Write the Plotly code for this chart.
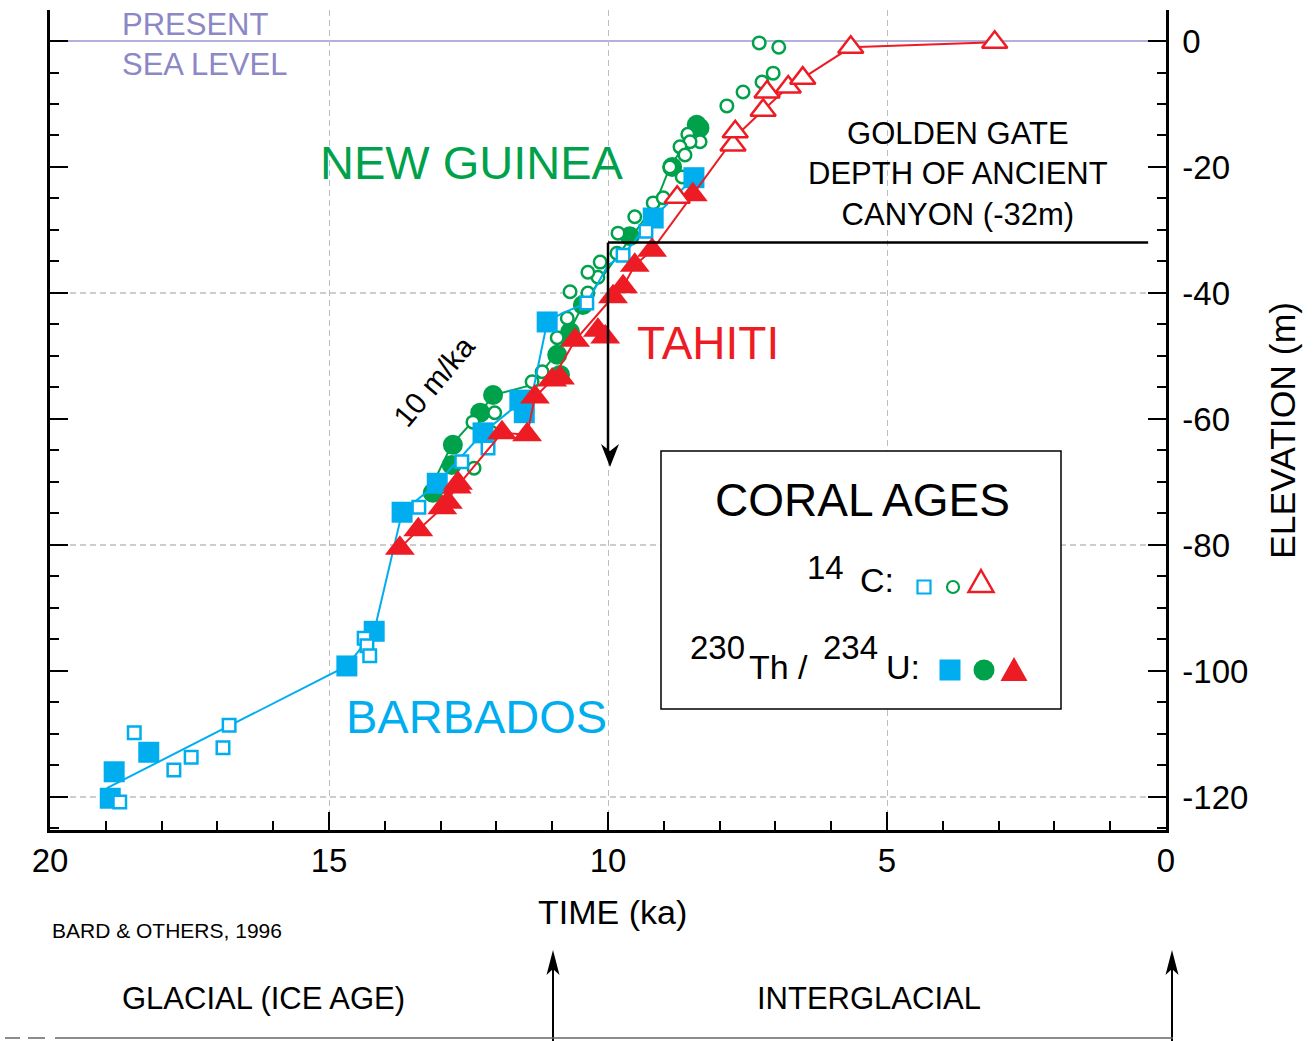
import plotly.graph_objects as go

# ---------------- data: time (ka before present), elevation (m) ----------------
barbados_uth_t = [18.92, 18.85, 18.23, 14.68, 14.19, 13.69, 13.06, 12.24, 11.58, 11.50, 11.09, 9.19, 8.46]
barbados_uth_e = [-120.2, -116.0, -112.9, -99.2, -93.7, -74.8, -70.2, -62.2, -57.0, -59.0, -44.6, -28.1, -21.7]
barbados_c14_t = [18.75, 18.49, 17.78, 17.47, 16.90, 16.79, 14.37, 14.32, 14.27, 13.39, 12.62, 12.15, 10.38, 9.73, 9.32]
barbados_c14_e = [-120.8, -109.8, -115.7, -113.7, -112.2, -108.6, -94.8, -96.0, -97.6, -74.0, -66.8, -64.6, -41.6, -34.0, -30.2]
barbados_curve_t = [18.98, 14.68, 14.19, 13.69, 13.06, 12.24, 11.52, 11.34, 11.09, 10.82, 10.38, 10.00, 9.73, 9.19, 8.46]
barbados_curve_e = [-118.6, -99.2, -93.7, -74.8, -70.2, -62.2, -57.0, -55.4, -44.6, -43.2, -41.6, -35.6, -34.0, -28.1, -21.7]

newguinea_uth_t = [13.14, 12.80, 12.78, 12.29, 12.06, 10.86, 10.91, 10.68, 10.45, 9.61, 8.85, 8.41, 8.36]
newguinea_uth_e = [-71.7, -67.3, -64.1, -59.0, -56.2, -53.0, -49.8, -46.2, -41.9, -31.0, -20.0, -13.3, -13.8]
newguinea_c14_t = [7.29, 6.94, 7.04, 7.24, 7.58, 7.87, 8.57, 8.35, 8.53, 8.71, 8.62, 8.89, 8.67, 9.19, 9.01,
                   9.52, 9.82, 9.84, 10.14, 10.18, 10.36, 10.68, 10.36, 10.73, 10.91, 11.18, 11.36, 12.03,
                   12.42, 12.08, 12.40]
newguinea_c14_e = [-0.3, -1.0, -5.1, -6.5, -8.1, -10.3, -14.8, -16.0, -16.0, -16.8, -18.1, -20.0, -21.6, -25.7, -24.9,
                   -27.9, -30.5, -33.7, -35.1, -37.5, -36.7, -39.8, -40.0, -44.0, -47.1, -52.5, -54.1, -59.0,
                   -60.5, -62.2, -67.8]
newguinea_curve_t = [13.24, 12.80, 12.29, 12.06, 11.36, 11.13, 10.91, 10.68, 10.45, 10.14, 9.82, 9.57, 9.16, 8.89, 8.39]
newguinea_curve_e = [-72.1, -64.1, -59.0, -56.2, -54.6, -51.9, -49.4, -45.9, -41.9, -37.9, -34.0, -31.1, -26.0, -20.0, -13.3]

tahiti_uth_t = [13.73, 13.40, 12.97, 12.87, 12.71, 12.69, 11.90, 11.45, 11.31, 11.00, 10.86, 10.59, 10.18, 10.05,
                9.91, 9.73, 9.52, 9.21, 8.48]
tahiti_uth_e = [-80.5, -77.6, -74.1, -73.2, -70.8, -70.2, -62.2, -62.5, -56.5, -53.8, -53.5, -47.5, -45.9, -47.0,
                -40.6, -39.0, -35.6, -33.2, -24.4]
tahiti_c14_t = [8.76, 7.76, 7.72, 7.22, 7.15, 6.77, 6.51, 5.65, 3.07]
tahiti_c14_e = [-24.8, -16.5, -14.4, -11.0, -8.1, -7.3, -5.9, -1.0, -0.2]
tahiti_curve_t = [13.73, 13.40, 12.97, 12.71, 11.90, 11.45, 11.31, 11.00, 10.59, 9.91, 9.73, 9.52, 9.21, 8.48,
                  7.72, 7.22, 6.77, 6.51, 5.65, 3.07]
tahiti_curve_e = [-80.5, -77.6, -74.1, -70.8, -62.2, -62.5, -56.5, -53.8, -47.5, -40.6, -39.0, -35.6, -33.2, -24.4,
                  -15.2, -11.0, -7.3, -5.9, -1.0, -0.2]

x_ticks = [20, 15, 10, 5, 0]
y_ticks = [0, -20, -40, -60, -80, -100, -120]
golden_gate_depth = -32
golden_gate_time = 10
sea_level = 0

# ---------------- styling ----------------
FONT = "Liberation Sans, Arial, Helvetica, sans-serif"
BLUE = "#00AEEF"
GREEN = "#00A14B"
RED = "#ED1C24"
LAV = "#8C87C6"
W, H = 1313, 1041
L, R, T, B = 50, 1166, 10, 830


def px(x):
    return (x - L) / (R - L)


def py(y):
    return (B - y) / (B - T)


fig = go.Figure()


def curve(t, e, color):
    fig.add_trace(go.Scatter(x=t, y=e, mode="lines", line=dict(color=color, width=2),
                             hoverinfo="skip", showlegend=False))


def pts(t, e, color, symbol, size, filled):
    if filled:
        mk = dict(color=color, symbol=symbol, size=size, line=dict(width=0))
    else:
        mk = dict(color="white", symbol=symbol, size=size, line=dict(color=color, width=2.5))
    fig.add_trace(go.Scatter(x=t, y=e, mode="markers", marker=mk, showlegend=False))


curve(newguinea_curve_t, newguinea_curve_e, GREEN)
pts(newguinea_uth_t, newguinea_uth_e, GREEN, "circle", 20, True)
pts(newguinea_c14_t, newguinea_c14_e, GREEN, "circle", 12.5, False)
curve(barbados_curve_t, barbados_curve_e, BLUE)
pts(barbados_uth_t, barbados_uth_e, BLUE, "square", 21, True)
pts(barbados_c14_t, barbados_c14_e, BLUE, "square", 12.5, False)
curve(tahiti_curve_t, tahiti_curve_e, RED)
pts(tahiti_uth_t, tahiti_uth_e, RED, "triangle-up", 26, True)
pts(tahiti_c14_t, tahiti_c14_e, RED, "triangle-up", 22, False)

shapes = []
# horizontal dashed grid
for g in [-40, -80, -120]:
    shapes.append(dict(type="line", xref="paper", x0=0, x1=1, yref="y", y0=g, y1=g, layer="below",
                       line=dict(color="#BDBDBD", width=1.3, dash="6px,4px")))
# present sea level
shapes.append(dict(type="line", xref="x", x0=20, x1=0, yref="y", y0=sea_level, y1=sea_level, layer="below",
                   line=dict(color="#9A96D2", width=1.5)))
# golden gate canyon depth: horizontal line and vertical arrow shaft
shapes.append(dict(type="line", xref="x", x0=golden_gate_time, x1=0.32, yref="y", y0=golden_gate_depth,
                   y1=golden_gate_depth, line=dict(color="black", width=2.5)))
shapes.append(dict(type="line", xref="x", x0=golden_gate_time, x1=golden_gate_time, yref="y",
                   y0=golden_gate_depth, y1=-65, line=dict(color="black", width=2.5)))
# legend box
shapes.append(dict(type="rect", xref="paper", yref="paper", x0=px(661), x1=px(1061), y0=py(709), y1=py(451),
                   fillcolor="white", line=dict(color="black", width=1.5)))


def poly(points, color, filled=True, width=0):
    p = "M " + " L ".join("{},{}".format(px(a), py(b)) for a, b in points) + " Z"
    shapes.append(dict(type="path", xref="paper", yref="paper", path=p,
                       fillcolor=color if filled else "white",
                       line=dict(color=color, width=width)))


def arrow_head(x, tip, length, width, notch, down=False):
    s = -1 if down else 1
    poly([(x, tip), (x + width / 2, tip + s * length), (x, tip + s * (length - notch)),
          (x - width / 2, tip + s * length)], "black")


# golden gate arrow head (pointing down)
arrow_head(610, 467, 23, 18, 7, down=True)
# bottom arrows (pointing up)
for xa in [553, 1172]:
    shapes.append(dict(type="line", xref="paper", yref="paper", x0=px(xa), x1=px(xa), y0=py(1041), y1=py(965),
                       line=dict(color="black", width=2)))
    arrow_head(xa, 950, 25, 13, 6)


# legend swatches
def sq(cx, cy, s, color, filled):
    shapes.append(dict(type="rect", xref="paper", yref="paper", x0=px(cx - s / 2), x1=px(cx + s / 2),
                       y0=py(cy + s / 2), y1=py(cy - s / 2),
                       fillcolor=color if filled else "white",
                       line=dict(color=color, width=0 if filled else 2.2)))


def circ(cx, cy, d, color, filled):
    shapes.append(dict(type="circle", xref="paper", yref="paper", x0=px(cx - d / 2), x1=px(cx + d / 2),
                       y0=py(cy + d / 2), y1=py(cy - d / 2),
                       fillcolor=color if filled else "white",
                       line=dict(color=color, width=0 if filled else 2.2)))


def tri(cx, top, bot, w, color, filled):
    poly([(cx, top), (cx + w / 2, bot), (cx - w / 2, bot)], color, filled, 0 if filled else 2.5)


sq(924, 587, 13, BLUE, False)
circ(953, 587, 12, GREEN, False)
tri(981, 570, 592, 25, RED, False)
sq(950, 670, 21, BLUE, True)
circ(984, 670, 21, GREEN, True)
tri(1014, 657, 681, 27, RED, True)

# bottom rule
for a, b in [(55, 1173), (5, 20), (28, 45)]:
    shapes.append(dict(type="line", xref="paper", yref="paper", x0=px(a), x1=px(b), y0=py(1038), y1=py(1038),
                       line=dict(color="#666666", width=1.5)))


def txt(x, y, text, size, color="black", xanchor="center", angle=0, align="center"):
    return dict(x=px(x), y=py(y), xref="paper", yref="paper", text=text, showarrow=False,
                font=dict(family=FONT, size=size, color=color), xanchor=xanchor, yanchor="middle",
                textangle=angle, align=align)


ann = [
    txt(120, 44, "PRESENT<br>SEA LEVEL", 31, LAV, xanchor="left", align="left"),
    txt(472, 162, "NEW GUINEA", 47, GREEN),
    txt(708, 343, "TAHITI", 46, RED),
    txt(476, 716, "BARBADOS", 47, BLUE),
    txt(958, 174, "GOLDEN GATE<br>DEPTH OF ANCIENT<br>CANYON (-32m)", 31),
    txt(434, 382, "10 m/ka", 30, angle=-50),
    txt(862, 500, "CORAL AGES", 46),
    txt(825, 567, "14", 33),
    txt(877, 580, "C:", 34),
    txt(717, 647, "230", 33),
    txt(778, 667, "Th /", 34),
    txt(850, 647, "234", 33),
    txt(903, 667, "U:", 34),
    txt(612, 912, "TIME (ka)", 34),
    txt(1283, 431, "ELEVATION (m)", 35.5, angle=-90),
    txt(50, 931, "BARD &amp; OTHERS, 1996", 21, xanchor="left"),
    txt(263, 998, "GLACIAL (ICE AGE)", 31),
    txt(869, 998, "INTERGLACIAL", 31),
]

fig.update_layout(
    width=W, height=H, autosize=False,
    margin=dict(l=L, r=W - R, t=T, b=H - B, pad=0),
    paper_bgcolor="white", plot_bgcolor="rgba(0,0,0,0)",
    shapes=shapes, annotations=ann,
    font=dict(family=FONT, color="black"),
    xaxis=dict(range=[20, 0], tickvals=x_ticks, ticktext=[str(v) for v in x_ticks],
               showline=True, linecolor="black", linewidth=2.5,
               ticks="inside", ticklen=18, tickwidth=2, tickcolor="black",
               showgrid=True, gridcolor="#BDBDBD", griddash="6px,4px", gridwidth=1.3, zeroline=False,
               tickfont=dict(size=33, family=FONT, color="black"), ticklabelstandoff=0,
               minor=dict(dtick=1, tick0=0, ticks="inside", ticklen=9, tickwidth=2, tickcolor="black",
                          showgrid=False)),
    yaxis=dict(range=[-125.24, 4.92], tickvals=y_ticks, ticktext=[str(v) for v in y_ticks],
               side="right", showline=True, mirror="ticks",
               linecolor="black", linewidth=2.5, ticks="inside", ticklen=18, tickwidth=2, tickcolor="black",
               showgrid=False, zeroline=False, tickfont=dict(size=33, family=FONT, color="black"),
               ticklabelstandoff=7,
               minor=dict(dtick=5, tick0=0, ticks="inside", ticklen=9, tickwidth=2, tickcolor="black",
                          showgrid=False)),
)

fig.write_html("out.html", config={"displayModeBar": False},
               post_script="document.body.style.margin='0';document.body.style.padding='0';")
